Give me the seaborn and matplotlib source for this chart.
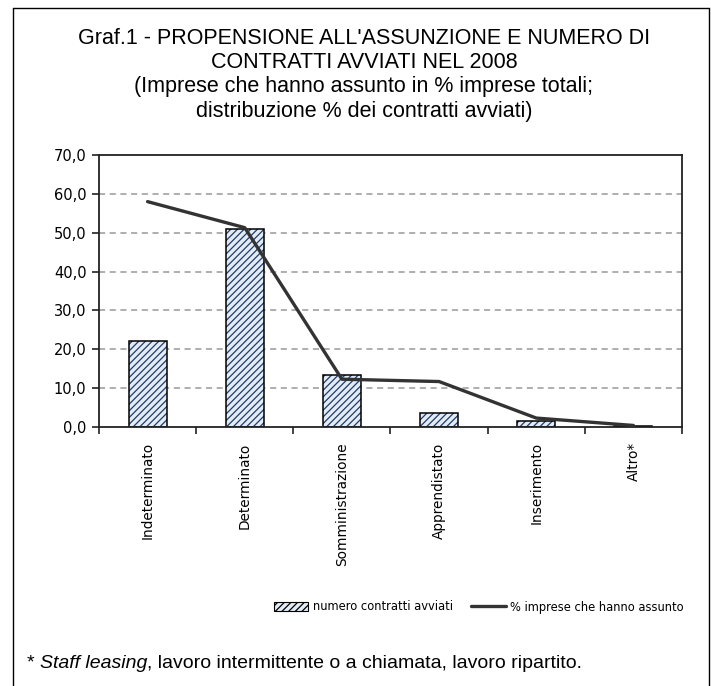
import numpy as np
import pandas as pd
import matplotlib
matplotlib.use("Agg")
import matplotlib.pyplot as plt
import seaborn as sns
from matplotlib.lines import Line2D
from matplotlib.patches import Patch

# -------------------------------
# Data
# -------------------------------
categories = ["Indeterminato", "Determinato", "Somministrazione",
              "Apprendistato", "Inserimento", "Altro*"]
contratti = [22.1, 51.0, 13.4, 3.6, 1.5, 0.3]      # distribuzione % contratti avviati
imprese = [58.0, 51.3, 12.3, 11.7, 2.3, 0.4]       # % imprese che hanno assunto
y_ticks = [0, 10, 20, 30, 40, 50, 60, 70]

title = ("Graf.1 - PROPENSIONE ALL'ASSUNZIONE E NUMERO DI\n"
         "CONTRATTI AVVIATI NEL 2008\n"
         "(Imprese che hanno assunto in % imprese totali;\n"
         "distribuzione % dei contratti avviati)")

df = pd.DataFrame({"cat": categories, "contratti": contratti,
                   "imprese": imprese, "pos": np.arange(len(categories))})

# -------------------------------
# Style
# -------------------------------
sns.set_style("white")
plt.rcParams["font.family"] = ["Liberation Sans", "DejaVu Sans"]
plt.rcParams["hatch.linewidth"] = 0.9
plt.rcParams["text.color"] = "black"
plt.rcParams["xtick.labelcolor"] = "black"
plt.rcParams["ytick.labelcolor"] = "black"

hatch_col = "#1f3c6b"
face_col = "#e3ebf5"
tick_font = "DejaVu Sans"

fig = plt.figure(figsize=(7.11, 6.86), dpi=100)
ax = fig.add_axes([99 / 711, 1 - 427 / 686, 583 / 711, 272 / 686])

# hatched bars
sns.barplot(data=df, x="cat", y="contratti", order=categories, ax=ax,
            color=face_col, width=0.39, saturation=1,
            edgecolor=hatch_col, linewidth=0, hatch="/////")
# black outlines on top
sns.barplot(data=df, x="cat", y="contratti", order=categories, ax=ax,
            facecolor="none", width=0.39, edgecolor="black", linewidth=1.1)

# line of enterprises that hired
sns.lineplot(data=df, x="pos", y="imprese", ax=ax, color="#333333",
             linewidth=2.4, zorder=5, legend=False)

ax.set_xlim(-0.5, len(categories) - 0.5)
ax.set_ylim(0, 70)
ax.set_yticks(y_ticks)
ax.set_yticklabels([f"{v:.1f}".replace(".", ",") for v in y_ticks],
                   fontfamily=tick_font)
ax.set_xticks(np.arange(len(categories)))
ax.set_xticklabels(categories, rotation=90, va="top", ha="center",
                   fontfamily=tick_font)
ax.set_xticks(np.arange(len(categories) + 1) - 0.5, minor=True)
ax.tick_params(axis="x", which="major", length=0, pad=11, labelsize=9.8)
ax.tick_params(axis="x", which="minor", length=5, width=1.2, color="#222222",
               direction="out", bottom=True)
ax.tick_params(axis="y", length=5, width=1.2, color="#222222", direction="out",
               left=True, labelsize=10.5, pad=4)
ax.set_xlabel("")
ax.set_ylabel("")

for v in y_ticks[1:-1]:
    ax.axhline(v, color="#999999", linestyle=(0, (4, 3)), linewidth=1.1, zorder=0)

for s in ax.spines.values():
    s.set_visible(True)
    s.set_color("#222222")
    s.set_linewidth(1.3)

# legend
handles = [Patch(facecolor=face_col, edgecolor="black", hatch="/////",
                 linewidth=0.8, label="numero contratti avviati"),
           Line2D([0], [0], color="#333333", linewidth=2.4,
                  label="% imprese che hanno assunto")]
fig.legend(handles=handles, loc="center right",
           bbox_to_anchor=(684 / 711, 1 - 607 / 686),
           ncol=2, frameon=False, prop={"family": tick_font, "size": 8.3},
           handlelength=3.0, handleheight=0.9, handletextpad=0.4,
           columnspacing=1.6, borderaxespad=0, borderpad=0)

# title
fig.text(364 / 711, 1 - 28 / 686, title, ha="center", va="top",
         fontsize=15.5, linespacing=1.2)

# footnote: "* " + italic "Staff leasing" + rest
fig.canvas.draw()
renderer = fig.canvas.get_renderer()
x0 = 27 / 711
yf = 1 - 663 / 686
parts = [("* ", "normal"), ("Staff leasing", "italic"),
         (", lavoro intermittente o a chiamata, lavoro ripartito.", "normal")]
for txt, st in parts:
    t = fig.text(x0, yf, txt, ha="left", va="center", fontsize=14.0, style=st)
    bb = t.get_window_extent(renderer)
    x0 += bb.width / fig.bbox.width

# outer frame (left, top, right)
W, H = 711, 686
frame = [([12.5, 12.5], [H, 7.5]), ([12.5, 709], [7.5, 7.5]), ([709, 709], [7.5, H])]
for xs, ys in frame:
    fig.add_artist(Line2D([x / W for x in xs], [1 - y / H for y in ys],
                          color="black", linewidth=1.0))

fig.savefig("out.png", dpi=100)
